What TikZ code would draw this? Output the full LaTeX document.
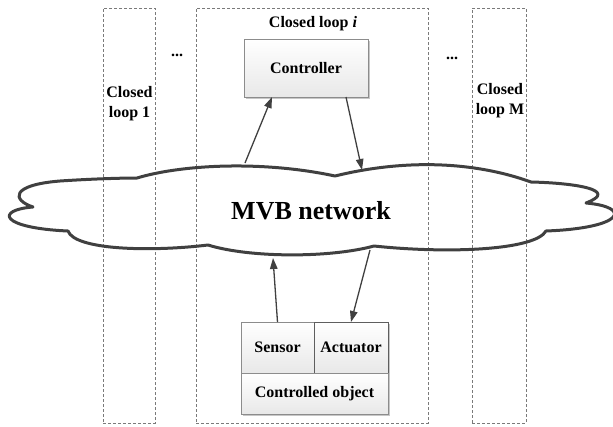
\documentclass[tikz,border=0pt]{standalone}
\usepackage{fontspec}
\setmainfont{Liberation Serif}
\usetikzlibrary{arrows.meta,shadows}
\definecolor{linegray}{HTML}{404040}
\definecolor{dashgray}{HTML}{7A7A7A}
\definecolor{boxborder}{HTML}{8C8C8C}
\definecolor{actborder}{HTML}{5E5E5E}
\begin{document}
\begin{tikzpicture}[x=1pt,y=-1pt,
  loopbox/.style={draw=dashgray, dash pattern=on 3pt off 2pt, line width=0.8pt, inner sep=0pt, outer sep=0pt},
  block/.style={draw=boxborder, line width=0.8pt, top color=white, bottom color=black!9,
     inner sep=0pt, outer sep=0pt, font=\fontsize{16}{19}\selectfont\bfseries,
     drop shadow={shadow xshift=1.6pt, shadow yshift=-1.6pt, fill=black!22, opacity=1}},
  lbl/.style={font=\fontsize{16}{20}\selectfont\bfseries, align=center, inner sep=0pt},
  arr/.style={draw=linegray, line width=1.3pt, -{Triangle[length=11pt,width=7.5pt]}},
  cloudline/.style={draw=linegray, line width=3pt, line join=round}
]
\useasboundingbox (0,0) rectangle (613,426);

% dashed closed loops
\node[loopbox, minimum width=52pt, minimum height=415pt] (loop1) at (129,215.5) {};
\node[loopbox, minimum width=232pt, minimum height=415pt] (loopi) at (312,215.5) {};
\node[loopbox, minimum width=54pt, minimum height=415pt] (loopM) at (499,215.5) {};

\node[lbl] (l1) at (129.5,104) {Closed\\loop 1};
\node[lbl] (lM) at (500,101) {Closed\\loop M};
\node[lbl] (li) at (313,24) {Closed loop \textit{i}};
\node[lbl] (dots1) at (177,55) {...};
\node[lbl] (dots2) at (452,58) {...};

% blocks
\node[block, minimum width=124pt, minimum height=58pt] (ctrl) at (306,68) {Controller};
\node[block, minimum width=73pt, minimum height=51pt] (sens) at (277.5,347.5) {Sensor};
\node[block, draw=actborder, minimum width=74pt, minimum height=51pt] (act) at (351,347.5) {Actuator};
\node[block, minimum width=147pt, minimum height=41pt] (obj) at (314.5,393.5) {Controlled object};

% cloud
\draw[cloudline] (137,178) .. controls (180,165) and (260,160) .. (335,176)
  .. controls (400,160) and (470,160) .. (531,182)
  .. controls (575,183) and (620,190) .. (586,203)
  .. controls (632,207) and (625,228) .. (546,231)
  .. controls (535,250) and (450,254) .. (374,246)
  .. controls (330,258) and (250,258) .. (208,245)
  .. controls (150,252) and (75,250) .. (68,231)
  .. controls (0,228) and (-5,210) .. (33,207)
  .. controls (12,200) and (10,185) .. (60,181)
  .. controls (90,179) and (120,178) .. (137,178) -- cycle;
\node[font=\fontsize{26}{31}\selectfont\bfseries, inner sep=0pt] (mvb) at (311,211) {MVB network};

% connector ends on the cloud
\coordinate (cup) at (245,163);
\coordinate (cdown) at (362,170);
\coordinate (cbotin) at (273,258);
\coordinate (cbotout) at (370,250);

\draw[arr] (cup) -- ([xshift=-34pt]ctrl.south);
\draw[arr] ([xshift=40pt]ctrl.south) -- (cdown);
\draw[arr] (sens.north) -- (cbotin);
\draw[arr] (cbotout) -- (act.north);
\end{tikzpicture}
\end{document}
